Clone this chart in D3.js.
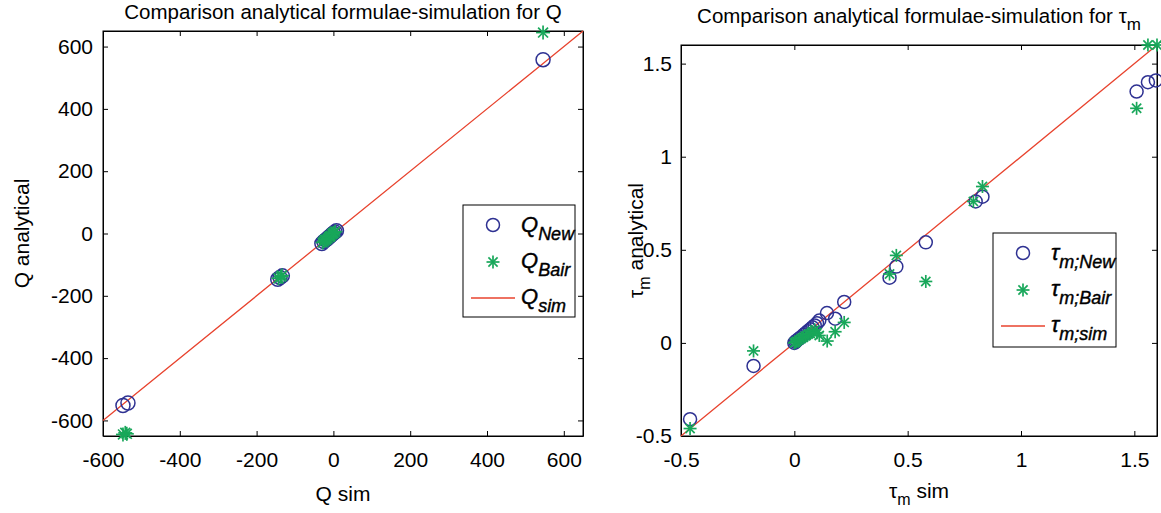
<!DOCTYPE html>
<html>
<head>
<meta charset="utf-8">
<script src="https://cdn.jsdelivr.net/npm/d3@7"></script>
<style>
  body { margin: 0; background: #fff; }
  svg { font-family: "Liberation Sans", Arial, sans-serif; }
  .axis path, .axis line { stroke: #000; stroke-width: 1; }
  .axis text { font-size: 21px; fill: #000; }
</style>
</head>
<body>
<div id="chart"></div>
<script>
// ---- data: Q panel ----
var qNewSim  = [546, -548, -535, -145, -139, -133, -30, -25, -20, -16, -12, -8, -4, 0, 4, 8];
var qNewAna  = [558, -552, -544, -147, -141, -136, -32, -26, -21, -17, -12, -8, -3, 1, 5, 9];
var qBairSim = [546, -548, -542, -538, -143, -137, -134, -28, -24, -19, -15, -11, -7, -3, 1, 5, -22, -9, 0];
var qBairAna = [645, -645, -640, -643, -144, -139, -135, -29, -25, -20, -16, -11, -7, -2, 2, 6, -20, -10, 1];
var qSim     = [-600, -548, -139, -10, 546, 650];
var qTicks   = [-600, -400, -200, 0, 200, 400, 600];

// ---- data: tau_m panel ----
var tNewSim  = [-0.46, -0.18, 0.22, 0.144, 0.18, 0.42, 0.45, 0.58, 0.80, 0.83, 1.51, 1.56, 1.595,
                0, 0.005, 0.01, 0.02, 0.03, 0.04, 0.05, 0.06, 0.07, 0.08, 0.09, 0.10, 0.11];
var tNewAna  = [-0.41, -0.124, 0.22, 0.16, 0.13, 0.35, 0.41, 0.54, 0.76, 0.785, 1.35, 1.40, 1.41,
                0, 0.006, 0.012, 0.022, 0.031, 0.042, 0.052, 0.063, 0.073, 0.084, 0.094, 0.105, 0.12];
var tBairSim = [-0.46, -0.18, 0.22, 0.18, 0.145, 0.11, 0.42, 0.45, 0.58, 0.79, 0.83, 1.51, 1.56, 1.60,
                0, 0.005, 0.01, 0.02, 0.03, 0.04, 0.05, 0.06, 0.07, 0.08, 0.09, 0.10];
var tBairAna = [-0.46, -0.043, 0.11, 0.06, 0.01, 0.04, 0.37, 0.47, 0.33, 0.76, 0.84, 1.26, 1.60, 1.60,
                0, 0.004, 0.008, 0.016, 0.024, 0.03, 0.038, 0.046, 0.05, 0.06, 0.07, 0.055];
var tSim     = [-0.5, -0.18, 0, 0.42, 0.83, 1.6];
var tTicks   = [-0.5, 0, 0.5, 1, 1.5];

var colNew = "#2e3192", colBair = "#18a75a", colSim = "#e8432e";

var svg = d3.select("#chart").append("svg")
  .attr("width", 1161)
  .attr("height", 513);

function drawStar(g, cx, cy, s) {
  var a = s * 0.7071;
  var segs = [[-s, 0, s, 0], [0, -s, 0, s], [-a, -a, a, a], [-a, a, a, -a]];
  segs.forEach(function(d) {
    g.append("line")
      .attr("x1", cx + d[0]).attr("y1", cy + d[1])
      .attr("x2", cx + d[2]).attr("y2", cy + d[3])
      .attr("stroke", colBair).attr("stroke-width", 1.7);
  });
}

function drawPanel(p) {
  var x = d3.scaleLinear().domain(p.xDomain).range([p.left, p.right]);
  var y = d3.scaleLinear().domain(p.yDomain).range([p.bottom, p.top]);
  var g = svg.append("g");

  g.append("rect")
    .attr("x", p.left).attr("y", p.top)
    .attr("width", p.right - p.left).attr("height", p.bottom - p.top)
    .attr("fill", "#fff").attr("stroke", "#000");

  // axes, ticks pointing inward on all four sides
  g.append("g").attr("class", "axis")
    .attr("transform", "translate(0," + p.bottom + ")")
    .call(d3.axisBottom(x).tickValues(p.ticks).tickSize(-5).tickSizeOuter(0)
      .tickPadding(16).tickFormat(function(d) { return String(d); }));
  g.append("g").attr("class", "axis")
    .attr("transform", "translate(0," + p.top + ")")
    .call(d3.axisTop(x).tickValues(p.ticks).tickSize(-5).tickSizeOuter(0).tickFormat(""));
  g.append("g").attr("class", "axis")
    .attr("transform", "translate(" + p.left + ",0)")
    .call(d3.axisLeft(y).tickValues(p.ticks).tickSize(-5).tickSizeOuter(0)
      .tickPadding(p.yPad).tickFormat(function(d) { return String(d); }));
  g.append("g").attr("class", "axis")
    .attr("transform", "translate(" + p.right + ",0)")
    .call(d3.axisRight(y).tickValues(p.ticks).tickSize(-5).tickSizeOuter(0).tickFormat(""));

  // simulation reference line
  var line = d3.line()
    .x(function(d) { return x(d); })
    .y(function(d) { return y(d); });
  g.append("path").datum(p.sim)
    .attr("d", line)
    .attr("fill", "none").attr("stroke", colSim).attr("stroke-width", 1.3);

  // circles
  for (var i = 0; i < p.newSim.length; i++) {
    g.append("circle")
      .attr("cx", x(p.newSim[i])).attr("cy", y(p.newAna[i]))
      .attr("r", p.r)
      .attr("fill", "none").attr("stroke", colNew).attr("stroke-width", 1.5);
  }
  // stars
  for (var j = 0; j < p.bairSim.length; j++) {
    drawStar(g, x(p.bairSim[j]), y(p.bairAna[j]), p.r);
  }

  // legend
  var L = p.legend;
  g.append("rect")
    .attr("x", L.x).attr("y", L.y).attr("width", L.w).attr("height", L.h)
    .attr("fill", "#fff").attr("stroke", "#000");
  g.append("circle")
    .attr("cx", L.mx).attr("cy", L.y + 20).attr("r", 6.5)
    .attr("fill", "none").attr("stroke", colNew).attr("stroke-width", 1.5);
  drawStar(g, L.mx, L.y + 57, 6.5);
  g.append("line")
    .attr("x1", L.mx - 22).attr("x2", L.mx + 22)
    .attr("y1", L.y + 93).attr("y2", L.y + 93)
    .attr("stroke", colSim).attr("stroke-width", 1.3);
  L.labels.forEach(function(lab, k) {
    var t = g.append("text")
      .attr("x", L.tx).attr("y", L.y + 27 + k * 36)
      .attr("font-size", 22).attr("font-style", "italic")
      .attr("stroke", "#000").attr("stroke-width", 0.4);
    t.append("tspan").text(lab[0]);
    t.append("tspan").attr("dy", 8).attr("font-size", 18).text(lab[1]);
  });

  // title
  var tt = g.append("text")
    .attr("x", (p.left + p.right) / 2).attr("y", p.titleY)
    .attr("text-anchor", "middle").attr("font-size", 20.5);
  tt.append("tspan").text(p.title[0]);
  if (p.title[1]) tt.append("tspan").attr("dy", 7).attr("font-size", 17).text(p.title[1]);

  // x label
  var xl = g.append("text")
    .attr("x", (p.left + p.right) / 2).attr("y", p.xLabelY)
    .attr("text-anchor", "middle").attr("font-size", 21);
  p.xLabel.forEach(function(s) {
    var ts = xl.append("tspan").text(s[0]);
    if (s[1]) ts.attr("dy", s[1]).attr("font-size", s[2]);
  });

  // y label
  var yl = g.append("text")
    .attr("transform", "translate(" + p.yLabelX + "," + ((p.top + p.bottom) / 2) + ") rotate(-90)")
    .attr("text-anchor", "middle").attr("font-size", 21);
  p.yLabel.forEach(function(s) {
    var ts = yl.append("tspan").text(s[0]);
    if (s[1]) ts.attr("dy", s[1]).attr("font-size", s[2]);
  });
}

drawPanel({
  left: 103, right: 583, top: 31, bottom: 436,
  xDomain: [-600, 650], yDomain: [-650, 650], ticks: qTicks, yPad: 10,
  newSim: qNewSim, newAna: qNewAna, bairSim: qBairSim, bairAna: qBairAna, sim: qSim, r: 7,
  legend: { x: 463, y: 205, w: 112, h: 112, mx: 493, tx: 521,
            labels: [["Q", "New"], ["Q", "Bair"], ["Q", "sim"]] },
  title: ["Comparison analytical formulae-simulation for Q"], titleY: 19,
  xLabel: [["Q sim"]], xLabelY: 501,
  yLabel: [["Q analytical"]], yLabelX: 29
});

drawPanel({
  left: 681, right: 1157, top: 45, bottom: 436,
  xDomain: [-0.5, 1.6], yDomain: [-0.5, 1.6], ticks: tTicks, yPad: 9,
  newSim: tNewSim, newAna: tNewAna, bairSim: tBairSim, bairAna: tBairAna, sim: tSim, r: 6.5,
  legend: { x: 993, y: 233, w: 123, h: 114, mx: 1023, tx: 1051,
            labels: [["\u03c4", "m;New"], ["\u03c4", "m;Bair"], ["\u03c4", "m;sim"]] },
  title: ["Comparison analytical formulae-simulation for \u03c4", "m"], titleY: 23,
  xLabel: [["\u03c4"], ["m", 7, 16], [" sim", -7, 21]], xLabelY: 498,
  yLabel: [["\u03c4"], ["m", 7, 16], [" analytical", -7, 21]], yLabelX: 643
});
</script>
</body>
</html>
